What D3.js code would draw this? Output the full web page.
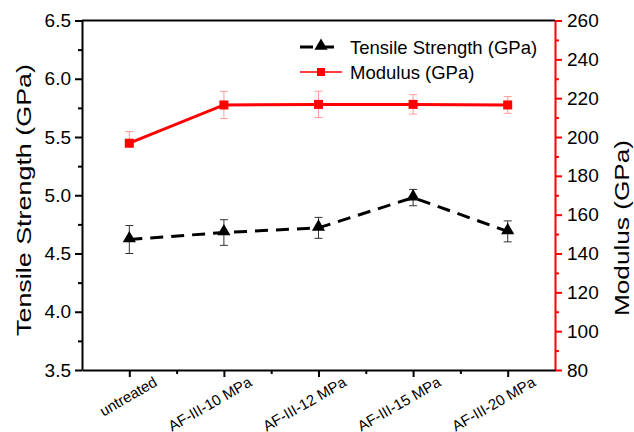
<!DOCTYPE html>
<html>
<head>
<meta charset="utf-8">
<script src="https://cdn.jsdelivr.net/npm/d3@7"></script>
<style>
  body { margin: 0; background: #fff; }
  text { font-family: "Liberation Sans", Arial, sans-serif; }
</style>
</head>
<body>
<script>
// data
var categories = ['untreated', 'AF-III-10 MPa', 'AF-III-12 MPa', 'AF-III-15 MPa', 'AF-III-20 MPa'];
var strength = [4.62, 4.68, 4.72, 4.98, 4.69];
var strengthErr = [0.12, 0.11, 0.09, 0.07, 0.09];
var modulus = [196.8, 216.5, 216.8, 216.8, 216.5];
var modulusErrUp = [6, 7, 6.8, 5, 4.3];
var modulusErrDown = [0, 7, 6.8, 5, 4.3];
var leftTicks = [3.5, 4.0, 4.5, 5.0, 5.5, 6.0, 6.5];
var rightTicks = [80, 100, 120, 140, 160, 180, 200, 220, 240, 260];

var scr = { w: 634, h: 432 };
var plot = { left: 82, right: 555, top: 20.5, bottom: 370 };

var svg = d3.select('body').append('svg')
    .attr('width', scr.w)
    .attr('height', scr.h);

var x = d3.scaleLinear()
    .domain([-0.5, categories.length - 0.5])
    .range([plot.left, plot.right]);
var yL = d3.scaleLinear().domain([3.5, 6.5]).range([plot.bottom, plot.top]);
var yR = d3.scaleLinear().domain([80, 260]).range([plot.bottom, plot.top]);

// top frame line
svg.append('line')
    .attr('x1', plot.left).attr('x2', plot.right)
    .attr('y1', plot.top).attr('y2', plot.top)
    .attr('stroke', '#000').attr('stroke-width', 2);

// left axis: minor + major
var leftAxis = svg.append('g').attr('transform', 'translate(' + plot.left + ',0)');
leftAxis.call(d3.axisLeft(yL).tickValues(d3.range(3.75, 6.5, 0.5)).tickSize(4).tickFormat(''))
    .call(function(g) { g.select('.domain').remove(); });
leftAxis.append('g')
    .call(d3.axisLeft(yL).tickValues(leftTicks).tickSize(7).tickSizeOuter(0).tickFormat(d3.format('.1f')));
leftAxis.selectAll('path, line').attr('stroke', '#000').attr('stroke-width', 2);
leftAxis.selectAll('text').attr('font-size', 19).attr('fill', '#000').attr('x', -11);

// right axis (red)
var rightAxis = svg.append('g').attr('transform', 'translate(' + plot.right + ',0)');
rightAxis.call(d3.axisRight(yR).tickValues(d3.range(90, 260, 20)).tickSize(4).tickFormat(''))
    .call(function(g) { g.select('.domain').remove(); });
rightAxis.append('g')
    .call(d3.axisRight(yR).tickValues(rightTicks).tickSize(7).tickSizeOuter(0));
rightAxis.selectAll('path, line').attr('stroke', '#ff0000').attr('stroke-width', 2);
rightAxis.selectAll('text').attr('font-size', 19).attr('fill', '#000').attr('x', 12);

// bottom axis
var bottomAxis = svg.append('g').attr('transform', 'translate(0,' + plot.bottom + ')');
bottomAxis.call(d3.axisBottom(x).tickValues(d3.range(0.5, categories.length - 0.5, 1)).tickSize(4).tickFormat(''))
    .call(function(g) { g.select('.domain').remove(); });
bottomAxis.append('g')
    .call(d3.axisBottom(x).tickValues(d3.range(categories.length)).tickSize(7).tickSizeOuter(0).tickFormat(''));
bottomAxis.selectAll('path, line').attr('stroke', '#000').attr('stroke-width', 2);

svg.append('g').selectAll('text')
    .data(categories)
    .enter()
    .append('text')
    .attr('transform', function(d, i) {
        return 'translate(' + (x(i) + 29) + ',' + (plot.bottom + 15) + ') rotate(-30)';
    })
    .attr('text-anchor', 'end')
    .attr('font-size', 15)
    .text(function(d) { return d; });

// axis titles (the originals are drawn a bit stretched along their length)
svg.append('text')
    .attr('transform', 'translate(31,200) rotate(-90)')
    .attr('text-anchor', 'middle')
    .attr('font-size', 20)
    .attr('textLength', 272)
    .attr('lengthAdjust', 'spacingAndGlyphs')
    .text('Tensile Strength (GPa)');
svg.append('text')
    .attr('transform', 'translate(629,228) rotate(-90)')
    .attr('text-anchor', 'middle')
    .attr('font-size', 20)
    .attr('textLength', 176)
    .attr('lengthAdjust', 'spacingAndGlyphs')
    .text('Modulus (GPa)');

// modulus series
var modG = svg.append('g');
var modCaps = [];
modulus.forEach(function(d, i) {
    if (modulusErrUp[i] > 0) modCaps.push({ i: i, v: d + modulusErrUp[i] });
    if (modulusErrDown[i] > 0) modCaps.push({ i: i, v: d - modulusErrDown[i] });
});
modG.selectAll('line.err')
    .data(modulus)
    .enter()
    .append('line')
    .attr('x1', function(d, i) { return x(i); })
    .attr('x2', function(d, i) { return x(i); })
    .attr('y1', function(d, i) { return yR(d + modulusErrUp[i]); })
    .attr('y2', function(d, i) { return yR(d - modulusErrDown[i]); })
    .attr('stroke', '#ff9999').attr('stroke-width', 1);
modG.selectAll('line.cap')
    .data(modCaps)
    .enter()
    .append('line')
    .attr('x1', function(d) { return x(d.i) - 4; })
    .attr('x2', function(d) { return x(d.i) + 4; })
    .attr('y1', function(d) { return yR(d.v); })
    .attr('y2', function(d) { return yR(d.v); })
    .attr('stroke', '#ff9999').attr('stroke-width', 1);
modG.append('path')
    .datum(modulus)
    .attr('fill', 'none')
    .attr('stroke', '#ff0000')
    .attr('stroke-width', 3)
    .attr('d', d3.line().x(function(d, i) { return x(i); }).y(function(d) { return yR(d); }));
modG.selectAll('rect')
    .data(modulus)
    .enter()
    .append('rect')
    .attr('x', function(d, i) { return x(i) - 4.5; })
    .attr('y', function(d) { return yR(d) - 4.5; })
    .attr('width', 9).attr('height', 9)
    .attr('fill', '#ff0000');

// strength series
var strG = svg.append('g');
var strCaps = [];
strength.forEach(function(d, i) {
    strCaps.push({ i: i, v: d + strengthErr[i] });
    strCaps.push({ i: i, v: d - strengthErr[i] });
});
strG.selectAll('line.err')
    .data(strength)
    .enter()
    .append('line')
    .attr('x1', function(d, i) { return x(i); })
    .attr('x2', function(d, i) { return x(i); })
    .attr('y1', function(d, i) { return yL(d + strengthErr[i]); })
    .attr('y2', function(d, i) { return yL(d - strengthErr[i]); })
    .attr('stroke', '#333').attr('stroke-width', 1);
strG.selectAll('line.cap')
    .data(strCaps)
    .enter()
    .append('line')
    .attr('x1', function(d) { return x(d.i) - 4; })
    .attr('x2', function(d) { return x(d.i) + 4; })
    .attr('y1', function(d) { return yL(d.v); })
    .attr('y2', function(d) { return yL(d.v); })
    .attr('stroke', '#333').attr('stroke-width', 1);
strG.append('path')
    .datum(strength)
    .attr('fill', 'none')
    .attr('stroke', '#000')
    .attr('stroke-width', 3)
    .attr('stroke-dasharray', '13,8')
    .attr('d', d3.line().x(function(d, i) { return x(i); }).y(function(d) { return yL(d); }));
var tri = d3.symbol().type(d3.symbolTriangle).size(75);
strG.selectAll('path.mk')
    .data(strength)
    .enter()
    .append('path')
    .attr('class', 'mk')
    .attr('d', tri)
    .attr('transform', function(d, i) { return 'translate(' + x(i) + ',' + (yL(d) - 1) + ')'; })
    .attr('fill', '#000');

// legend
var legend = svg.append('g').attr('transform', 'translate(300,0)');
legend.append('line')
    .attr('x1', 0).attr('x2', 42).attr('y1', 47).attr('y2', 47)
    .attr('stroke', '#000').attr('stroke-width', 3).attr('stroke-dasharray', '13,8');
legend.append('path').attr('d', tri).attr('transform', 'translate(21,46)').attr('fill', '#000');
legend.append('text').attr('x', 50).attr('y', 53.5).attr('font-size', 18.5).text('Tensile Strength (GPa)');
legend.append('line')
    .attr('x1', 0).attr('x2', 42).attr('y1', 72).attr('y2', 72)
    .attr('stroke', '#ff0000').attr('stroke-width', 1.5);
legend.append('rect').attr('x', 17).attr('y', 68).attr('width', 8).attr('height', 8).attr('fill', '#ff0000');
legend.append('text').attr('x', 50).attr('y', 78.5).attr('font-size', 18.5).text('Modulus (GPa)');
</script>
</body>
</html>
